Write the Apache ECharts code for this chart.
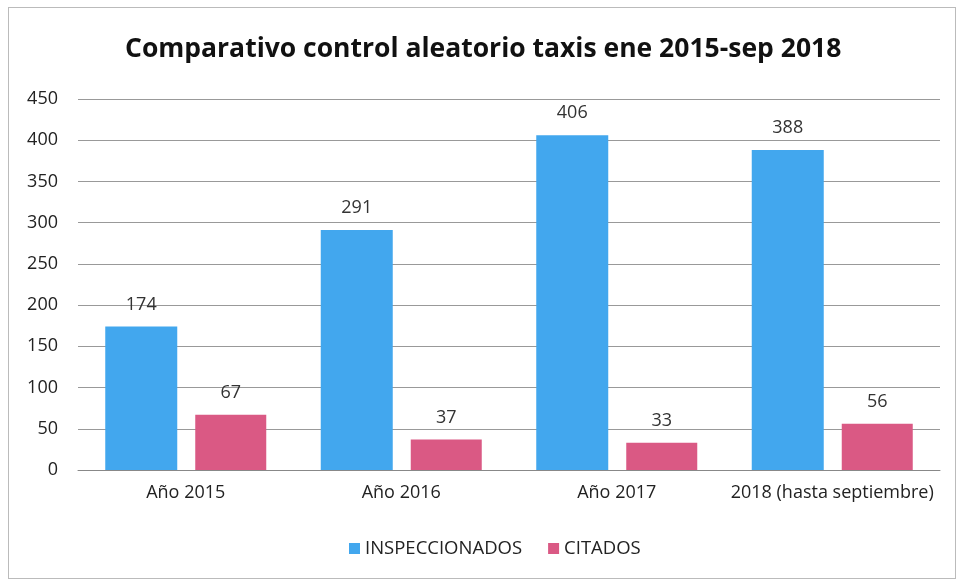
<!DOCTYPE html>
<html>
<head>
<meta charset="utf-8">
<script src="https://cdn.jsdelivr.net/npm/echarts@6/dist/echarts.min.js"></script>
<style>
    html, body { margin: 0; padding: 0; background: #fff; }
    #chart { width: 962px; height: 583px; }
    .frame { position: absolute; left: 8px; top: 7px; width: 946px; height: 570px; border: 1px solid #bbb; pointer-events: none; }
</style>
</head>
<body>
<div id="chart"></div>
<div class="frame"></div>
<script>
// 数据
const categories = ['Año 2015', 'Año 2016', 'Año 2017', '2018 (hasta septiembre)'];
const inspeccionados = [174, 291, 406, 388];
const citados = [67, 37, 33, 56];
const yTicks = [0, 50, 100, 150, 200, 250, 300, 350, 400, 450];

window.addEventListener('DOMContentLoaded', function() {
    const chart = echarts.init(document.getElementById('chart'));
    const labelStyle = {
        show: true,
        position: 'top',
        distance: 13,
        fontSize: 18,
        color: '#333',
        fontFamily: 'Open Sans'
    };
    const option = {
        backgroundColor: '#fff',
        title: {
            text: 'Comparativo control aleatorio taxis ene 2015-sep 2018',
            left: 120,
            top: 31,
            textStyle: {
                fontSize: 26.5,
                fontWeight: 'bold',
                color: '#111',
                fontFamily: 'Open Sans'
            }
        },
        legend: {
            bottom: 20,
            left: 344,
            itemWidth: 11,
            itemHeight: 11,
            itemGap: 26,
            icon: 'rect',
            textStyle: { fontSize: 18.5, color: '#222', fontFamily: 'Open Sans' },
            data: ['INSPECCIONADOS', 'CITADOS']
        },
        grid: {
            left: 78,
            right: 22,
            top: 99,
            bottom: 113,
            containLabel: false
        },
        xAxis: {
            type: 'category',
            data: categories,
            axisTick: { show: false },
            axisLine: { lineStyle: { color: '#888' } },
            axisLabel: {
                interval: 0,
                fontSize: 18,
                color: '#222',
                margin: 14,
                fontFamily: 'Open Sans'
            }
        },
        yAxis: {
            type: 'value',
            min: yTicks[0],
            max: yTicks[yTicks.length - 1],
            interval: 50,
            axisLine: { show: false },
            axisTick: { show: false },
            splitLine: { lineStyle: { color: '#999' } },
            axisLabel: {
                fontSize: 18,
                color: '#222',
                margin: 20,
                fontFamily: 'Open Sans'
            }
        },
        series: [
            {
                name: 'INSPECCIONADOS',
                type: 'bar',
                data: inspeccionados,
                barWidth: 72,
                barGap: '25%',
                itemStyle: { color: '#42A7EE' },
                label: labelStyle
            },
            {
                name: 'CITADOS',
                type: 'bar',
                data: citados,
                barWidth: 71,
                itemStyle: { color: '#DA5984' },
                label: labelStyle
            }
        ]
    };
    chart.setOption(option);
});
</script>
</body>
</html>
